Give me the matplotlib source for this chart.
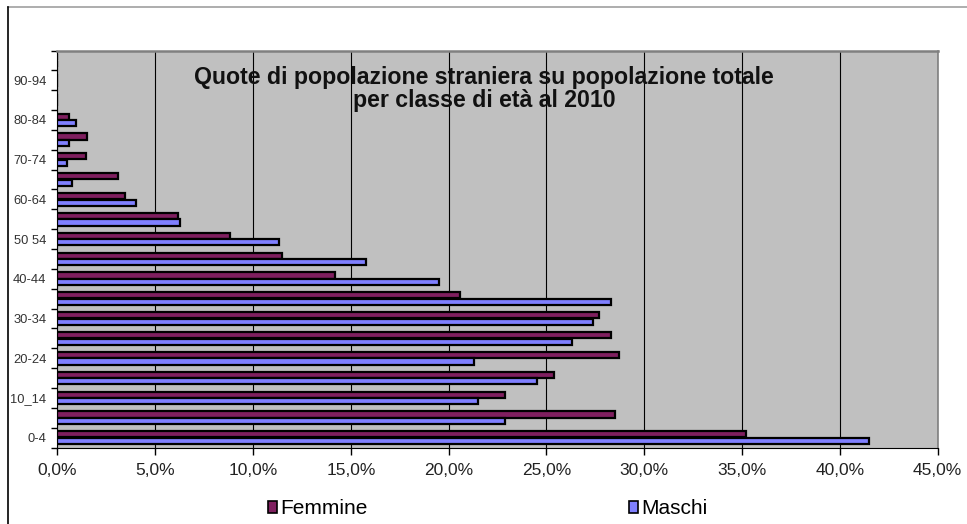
import matplotlib.pyplot as plt
import numpy as np
from matplotlib.lines import Line2D
from matplotlib.patches import Patch
from matplotlib.ticker import FuncFormatter

# age classes (bottom to top)
classi = ["0-4", "5-9", "10_14", "15-19", "20-24", "25-29", "30-34", "35-39",
          "40-44", "45-49", "50 54", "55-59", "60-64", "65-69", "70-74",
          "75-79", "80-84", "85-89", "90-94", "95-99"]

# quota stranieri (%)
femmine = [35.2, 28.5, 22.9, 25.4, 28.7, 28.3, 27.7, 20.6, 14.2, 11.5,
           8.8, 6.15, 3.45, 3.1, 1.45, 1.5, 0.6, 0.0, 0.0, 0.0]
maschi = [41.5, 22.9, 21.5, 24.5, 21.3, 26.3, 27.4, 28.3, 19.5, 15.75,
          11.35, 6.25, 4.0, 0.75, 0.47, 0.6, 0.97, 0.0, 0.0, 0.0]

titolo = "Quote di popolazione straniera su popolazione totale\nper classe di età al 2010"

col_f = '#7f1f5f'
col_m = '#8080ff'

fig = plt.figure(figsize=(9.67, 5.24), dpi=100)
ax = fig.add_axes([57.4/967, 1-447.5/524, 880.3/967, 397/524])
ax.set_facecolor('#c0c0c0')

y = np.arange(len(classi))
h = 0.31
ax.barh(y + 0.165, femmine, height=h, color=col_f, edgecolor='black', linewidth=1.6, zorder=3)
ax.barh(y - 0.165, maschi, height=h, color=col_m, edgecolor='black', linewidth=1.6, zorder=3)

ax.set_xlim(0, 45)
ax.set_ylim(-0.5, len(classi) - 0.5)

# x axis
ax.set_xticks(np.arange(0, 46, 5))
ax.xaxis.set_major_formatter(FuncFormatter(lambda v, p: ("%.1f%%" % v).replace('.', ',')))
ax.tick_params(axis='x', direction='out', length=5, width=1, pad=6, colors='black')
for lab in ax.get_xticklabels():
    lab.set_family('Liberation Sans')
    lab.set_fontsize(12.5)
    lab.set_color('#222222')
ax.grid(axis='x', color='black', linewidth=0.8, zorder=1)

# y axis: ticks at boundaries, labels every other class
ax.set_yticks(np.arange(-0.5, len(classi), 1))
ax.set_yticklabels([])
ax.tick_params(axis='y', which='major', direction='out', length=4, width=1)
ax.set_yticks(y[::2], minor=True)
ax.set_yticklabels(classi[::2], minor=True, fontsize=9.3, color='#333333', family='Liberation Sans')
ax.tick_params(axis='y', which='minor', length=0, pad=8)

ax.spines['left'].set_color('black')
ax.spines['bottom'].set_color('black')
ax.spines['top'].set_color('#808080')
ax.spines['top'].set_linewidth(1.8)
ax.spines['right'].set_color('#808080')
ax.spines['right'].set_linewidth(1.2)

ax.text(0.4846, 0.902, titolo, transform=ax.transAxes, ha='center', va='center',
        fontsize=16.7, fontweight='bold', family='Liberation Sans', linespacing=1.0,
        color='#111111', zorder=5)

# legend
for lab, col, x0 in [("Femmine", col_f, 268), ("Maschi", col_m, 629)]:
    fig.legend(handles=[Patch(facecolor=col, edgecolor='black', linewidth=1.2, label=lab)],
               loc='center left', bbox_to_anchor=(x0/967, 1-509/524), frameon=False,
               prop={'family': 'Liberation Sans', 'size': 15}, handlelength=0.45,
               handleheight=0.45, handletextpad=0.15, borderpad=0, borderaxespad=0)

# outer chart border
fig.add_artist(Line2D([8/967, 1], [1-7/524, 1-7/524], transform=fig.transFigure, color='#a0a0a0', linewidth=1.2))
fig.add_artist(Line2D([8/967, 8/967], [0, 1-7/524], transform=fig.transFigure, color='black', linewidth=1.2))

fig.savefig('out.png', dpi=100)
